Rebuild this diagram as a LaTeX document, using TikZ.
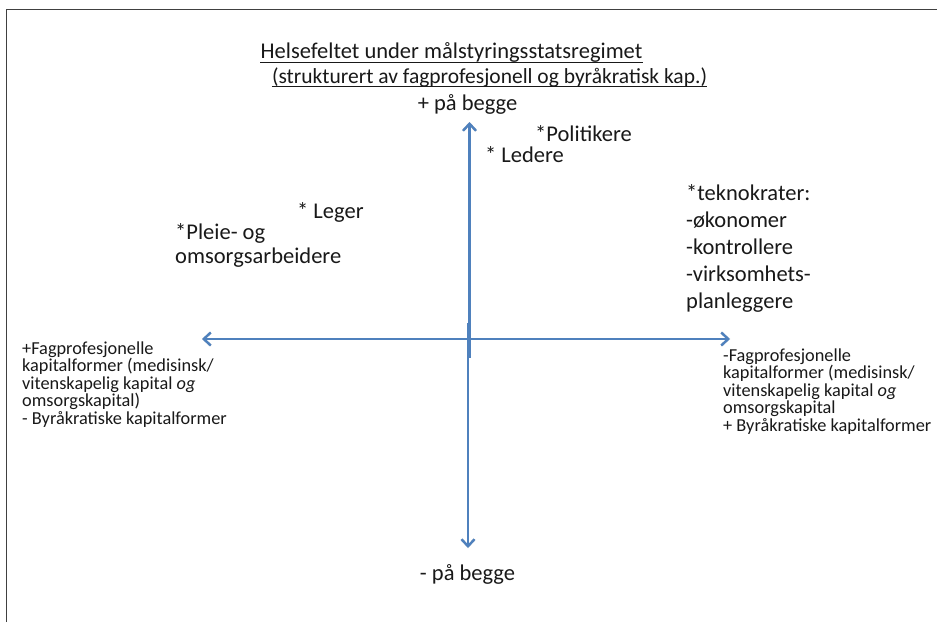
\documentclass[tikz,border=0pt]{standalone}
\usepackage{fontspec}
\setmainfont{Carlito}
\usetikzlibrary{arrows.meta}
\definecolor{axisblue}{RGB}{79,129,189}
\definecolor{txt}{RGB}{25,25,25}
\begin{document}
\begin{tikzpicture}[x=1pt,y=-1pt,
  big/.style={font=\fontsize{22.5}{27.2}\selectfont, text=txt, inner sep=0pt, align=left},
  pleie/.style={font=\fontsize{22.5}{24}\selectfont, text=txt, inner sep=0pt, align=left},
  sub/.style={font=\fontsize{21.5}{24}\selectfont, text=txt, inner sep=0pt},
  small/.style={font=\fontsize{18.3}{17.6}\selectfont, text=txt, inner sep=0pt, align=left},
  axis/.style={draw=axisblue, line width=2.6pt, -{Straight Barb[length=7pt,width=13pt,line width=2.4pt]}},
  axisshadow/.style={draw=black!18, line width=2.6pt, -{Straight Barb[length=7pt,width=13pt,line width=2.4pt]}},
  uline/.style={draw=txt, line width=0.9pt},
  frame/.style={draw=black!75, line width=1pt}
]
\useasboundingbox (0,0) rectangle (937,622);
\fill[white] (0,0) rectangle (937,622);
\draw[frame] (6,622) -- (6,9) -- (937,9);

% titles
\node[big, anchor=base] (title) at (451.5,58) {Helsefeltet under målstyringsstatsregimet};
\draw[uline] ([yshift=-4pt]title.base west) -- ([yshift=-4pt]title.base east);
\node[sub, anchor=base] (subtitle) at (489.5,83) {(strukturert av fagprofesjonell og byråkratisk kap.)};
\draw[uline] ([yshift=-3.5pt]subtitle.base west) -- ([yshift=-3.5pt]subtitle.base east);

% axes
\coordinate (c) at (469,339);
\coordinate (cu) at (469.5,358);
\coordinate (cd) at (468,323);
\coordinate (top) at (469.5,122);
\coordinate (bot) at (468,548);
\coordinate (lft) at (202,339);
\coordinate (rgt) at (730,339);
\begin{scope}[shift={(1.2,1.8)}]
\draw[axisshadow] (cu) -- (top);
\draw[axisshadow] (cd) -- (bot);
\draw[axisshadow] (c) -- (lft);
\draw[axisshadow] (c) -- (rgt);
\end{scope}
\draw[axis] (cu) -- (top);
\draw[axis] (cd) -- (bot);
\draw[axis] (c) -- (lft);
\draw[axis] (c) -- (rgt);

% pole labels
\node[big, anchor=base] (plus) at (467.5,110) {+ på begge};
\node[big, anchor=base] (minus) at (467.5,580) {- på begge};

% actors
\node[big, anchor=base west] (pol) at (535,141) {*Politikere};
\node[big, anchor=base west] (led) at (485,162) {* Ledere};
\node[big, anchor=base west] (leg) at (297,218) {* Leger};
% multi-line nodes: base = baseline of last line
\node[pleie, anchor=base west] (pleie) at (175,263) {*Pleie- og\\omsorgsarbeidere};
\node[big, anchor=base west] (tek) at (686,308.8) {*teknokrater:\\-økonomer\\-kontrollere\\-virksomhets-\\planleggere};

% axis end texts
\node[small, anchor=base west] (leftxt) at (22,424.4) {+Fagprofesjonelle\\kapitalformer (medisinsk/\\vitenskapelig kapital \textit{og}\\omsorgskapital)\\- Byråkratiske kapitalformer};
\node[small, anchor=base west] (rightxt) at (723,431.4) {-Fagprofesjonelle\\kapitalformer (medisinsk/\\vitenskapelig kapital \textit{og}\\omsorgskapital\\+ Byråkratiske kapitalformer};
\end{tikzpicture}
\end{document}
